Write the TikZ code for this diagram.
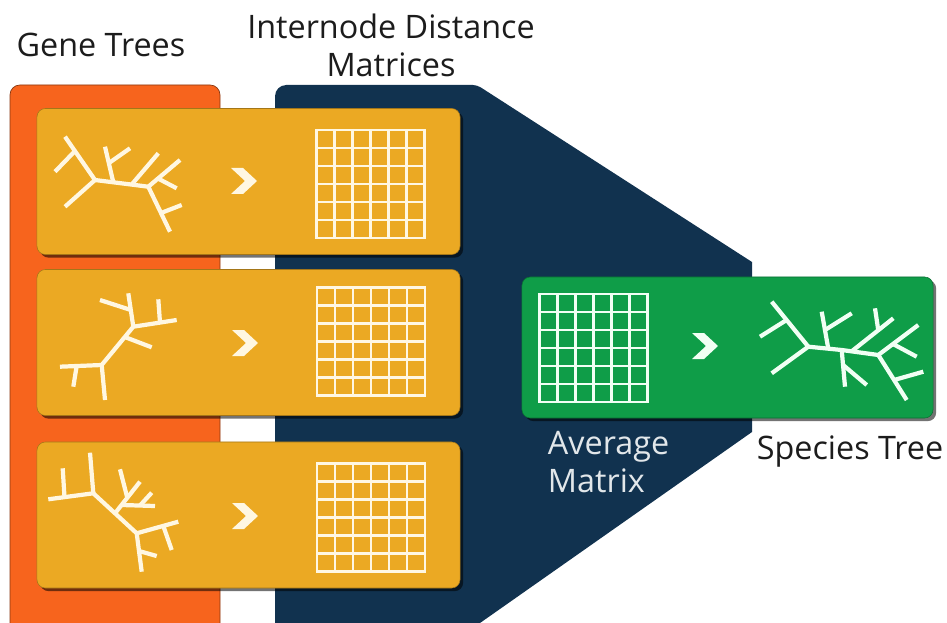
\documentclass[tikz,border=0pt]{standalone}
\usepackage{fontspec}
\setmainfont{Open Sans}
\usetikzlibrary{shadows}

\definecolor{geneorange}{HTML}{F7641D}
\definecolor{matnavy}{HTML}{11324F}
\definecolor{boxgold}{HTML}{EBA923}
\definecolor{spgreen}{HTML}{0F9D48}
\definecolor{cream}{HTML}{FFF7E2}
\definecolor{mint}{HTML}{F1FFF4}
\definecolor{inkgray}{HTML}{1C1C1C}

\tikzset{
  panelshadow/.style={drop shadow={shadow xshift=2.2pt, shadow yshift=-2.2pt, opacity=.55, fill=black}},
  genebox/.style={fill=boxgold, draw=boxgold!70!black, line width=.4pt, rounded corners=6pt,
                  minimum width=10.575cm, minimum height=3.65cm, panelshadow},
  speciesbox/.style={fill=spgreen, draw=spgreen!70!black, line width=.4pt, rounded corners=6pt,
                  minimum width=10.275cm, minimum height=3.525cm, panelshadow},
  branch/.style={line width=3pt, draw=cream},
  gridline/.style={line width=1.9pt, draw=cream},
  headline/.style={text=inkgray, font=\fontsize{23}{27}\selectfont, align=center}
}

% 6x6 网格, 参数: 中心 x, 中心 y, 颜色
\newcommand{\cellgrid}[3]{%
  \foreach \k in {0,...,6}{
    \draw[gridline, draw=#3] ({#1-54+18*\k},{#2-55}) -- ({#1-54+18*\k},{#2+55});
    \draw[gridline, draw=#3] ({#1-55},{#2-54+18*\k}) -- ({#1+55},{#2-54+18*\k});
  }}
% 箭头形 ">", 参数: 中心 x, 中心 y, 颜色
\newcommand{\chev}[3]{%
  \fill[#3] (#1-13,#2-13) -- (#1-1,#2-13) -- (#1+13,#2) -- (#1-1,#2+13)
            -- (#1-13,#2+13) -- (#1+1,#2) -- cycle;}

\begin{document}
\begin{tikzpicture}[x=0.025cm, y=-0.025cm]
    \useasboundingbox (0,0) rectangle (947,623);
    \clip (0,0) rectangle (947,623);

    % 1. 左侧橙色长条 (基因树)
    \draw[fill=geneorange, draw=geneorange!55!black, line width=.5pt, rounded corners=7pt]
          (10,660) -- (10,85) -- (220,85) -- (220,660) -- cycle;

    % 2. 深蓝色漏斗 (距离矩阵)
    \fill[matnavy, rounded corners=8pt] (275,660) -- (275,85) [rounded corners=3pt] -- (477,85)
          [sharp corners] -- (752,262) -- (752,432) -- (480,623) -- (480,660) -- cycle;

    % 3. 三个基因树方框
    \node[genebox] (gene1) at (248.5,181.5) {};
    \node[genebox] (gene2) at (248.5,342.5) {};
    \node[genebox] (gene3) at (248.5,515) {};

    % 4. 右侧绿色方框 (平均矩阵 -> 物种树)
    \node[speciesbox] (species) at (727.5,347.5) {};

    % 5. 网格和箭头
    \cellgrid{370.5}{184}{cream}
    \cellgrid{371}{341.5}{cream}
    \cellgrid{371}{517.5}{cream}
    \cellgrid{593.5}{348}{mint}
    \chev{244}{181}{cream}
    \chev{245}{343}{cream}
    \chev{245}{516}{cream}
    \chev{705}{346}{mint}

    % 6. 基因树 1
    \draw[branch] (65,136.7) -- (95,180) -- (65,206.7);
    \draw[branch] (75,151) -- (55,171.7);
    \draw[branch] (95,180) -- (113.3,182.3) -- (148.3,186.7) -- (180,160);
    \draw[branch] (113.3,182.3) -- (105,146.7);
    \draw[branch] (109,163) -- (130,148.3);
    \draw[branch] (131.7,184.5) -- (158.3,153.3);
    \draw[branch] (158,178.5) -- (176.7,188.3);
    \draw[branch] (148.3,186.7) -- (170,231.7);
    \draw[branch] (161,213) -- (181.7,205);

    % 7. 基因树 2
    \draw[branch] (60,366.7) -- (101.7,365) -- (133.3,326.7) -- (176.7,320);
    \draw[branch] (101.7,365) -- (105,400);
    \draw[branch] (76.7,366) -- (73.3,386.7);
    \draw[branch] (133.3,326.7) -- (128.3,293.3);
    \draw[branch] (100,300) -- (130.8,310);
    \draw[branch] (158.3,299.3) -- (160,322.6);
    \draw[branch] (124.8,337) -- (151.7,347.3);

    % 8. 基因树 3
    \draw[branch] (48.3,499.3) -- (93.3,493.3) -- (136.7,533.3) -- (141.7,571.7);
    \draw[branch] (62.7,468.3) -- (64.5,497.1);
    \draw[branch] (90,452.7) -- (93.3,493.3);
    \draw[branch] (115,513.3) -- (140,481.7);
    \draw[branch] (127.3,497.8) -- (120,469.3);
    \draw[branch] (121.6,505) -- (155,506);
    \draw[branch] (140,505.5) -- (151.7,492.7);
    \draw[branch] (136.7,533.3) -- (178.3,521.7);
    \draw[branch] (163.3,525.9) -- (171.7,550);
    \draw[branch] (139,551) -- (156.7,556);

    % 9. 物种树
    \begin{scope}[branch/.append style={draw=mint}]
    \draw[branch] (771.7,301.7) -- (808.3,346.7) -- (771.7,373.3);
    \draw[branch] (786.6,320) -- (760,336.7);
    \draw[branch] (808.3,346.7) -- (841.7,350) -- (878.3,355);
    \draw[branch] (828.3,348.7) -- (821.7,311.7);
    \draw[branch] (825,330) -- (851.7,313.3);
    \draw[branch] (851.7,351.3) -- (893.3,318.3);
    \draw[branch] (875,308.3) -- (878.3,330.4);
    \draw[branch] (841.7,350) -- (845,386.7);
    \draw[branch] (843.1,365) -- (866.7,385);
    \draw[branch] (878.3,355) -- (918.3,325);
    \draw[branch] (893,344) -- (916.7,356.7);
    \draw[branch] (878.3,355) -- (906.7,400);
    \draw[branch] (894.1,380) -- (923.3,371.7);
    \end{scope}

    % 10. 标签
    \node[headline] (genelabel) at (101,45) {Gene Trees};
    \node[headline] (matlabel) at (391,45) {Internode Distance\\Matrices};
    \node[headline, text=white!88!matnavy, align=left, anchor=west] (avglabel) at (543,462) {Average\\Matrix};
    \node[headline] (splabel) at (850,452) {Species Tree};
\end{tikzpicture}
\end{document}
